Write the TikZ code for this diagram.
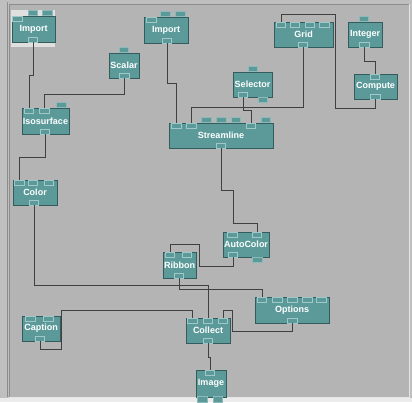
\documentclass[tikz,border=0pt]{standalone}
\usepackage{fontspec}
\setmainfont{Liberation Sans}
\usetikzlibrary{positioning}
\usetikzlibrary{calc}
\definecolor{dxteal}{RGB}{92,154,154}
\definecolor{dxlight}{RGB}{160,200,200}
\definecolor{dxdark}{RGB}{52,92,92}
\definecolor{dxbg}{RGB}{180,180,180}
\definecolor{dxwire}{RGB}{64,64,64}

\begin{document}
\begin{tikzpicture}[x=1pt,y=-1pt,
    module/.style={fill=dxteal, draw=dxdark, line width=0.6pt, inner sep=0pt,
        text=white, font=\fontsize{9}{10}\selectfont\bfseries, minimum height=25pt,
        path picture={\draw[dxlight, line width=1.4pt]
            (path picture bounding box.south west) -- (path picture bounding box.north west)
            -- (path picture bounding box.north east);}},
    tab/.style={fill=dxteal, draw=dxlight!70!dxteal, line width=0.6pt, inner sep=0pt,
        minimum width=9.5pt, minimum height=5.5pt},
    port/.style={tab, fill=dxteal, draw=dxlight, line width=0.6pt,
        minimum height=5pt},
    wire/.style={draw=dxwire, line width=0.8pt},
]
% frame
\fill[black!25] (0,0) rectangle (412,402);
\fill[dxbg] (9,4) rectangle (409,397);
\draw[black!45, line width=1pt] (9,397) -- (9,4) -- (409,4);
\draw[black!45, line width=0.6pt] (7,397) -- (7,2);
\draw[white!90!black, line width=1pt] (9,397.5) -- (409,397.5) -- (409,4);
\fill[white!92!black] (0,398) rectangle (412,402);
\fill[black!12] (11,10) rectangle (55,47);

% modules
\node[module, minimum width=43pt, minimum height=26pt] (imp1) at (33.5,29) {Import};
\node[module, minimum width=44pt, minimum height=26pt] (imp2) at (166,30) {Import};
\node[module, minimum width=30pt] (scalar) at (124,65.5) {Scalar};
\node[module, minimum width=47pt, minimum height=26pt] (iso) at (45.5,121) {Isosurface};
\node[module, minimum width=44pt] (color) at (35,192.5) {Color};
\node[module, minimum width=59pt] (grid) at (303.5,34.5) {Grid};
\node[module, minimum width=34pt] (int) at (365,34.5) {Integer};
\node[module, minimum width=43pt] (comp) at (375.5,86.5) {Compute};
\node[module, minimum width=39pt] (sel) at (252.5,84.5) {Selector};
\node[module, minimum width=104pt] (stream) at (221,135.5) {Streamline};
\node[module, minimum width=46pt] (auto) at (246,244.5) {AutoColor};
\node[module, minimum width=33pt, minimum height=26pt] (rib) at (179.5,265) {Ribbon};
\node[module, minimum width=74pt, minimum height=26pt] (opt) at (292,310) {Options};
\node[module, minimum width=38pt] (cap) at (41,328.5) {Caption};
\node[module, minimum width=44pt] (coll) at (208,330.5) {Collect};
\node[module, minimum width=30pt, minimum height=27pt] (img) at (211,383.5) {Image};

% input and output tabs
\node[port] (imp1-in1) at (17.5,18.5) {};
\node[tab] (imp1-in2) at (33,13) {};
\node[tab] (imp1-in3) at (47.5,13) {};
\node[port] (imp1-out) at (33,39.5) {};
\node[port] (imp2-in1) at (151.5,19.5) {};
\node[tab] (imp2-in2) at (165.5,14) {};
\node[tab] (imp2-in3) at (180.5,14) {};
\node[port] (imp2-out) at (167,40.5) {};
\node[tab] (scalar-in) at (124,50) {};
\node[port] (scalar-out) at (124.5,75.5) {};
\node[port] (iso-in1) at (29,110.5) {};
\node[port] (iso-in2) at (44.5,110.5) {};
\node[tab] (iso-in3) at (61.5,105) {};
\node[port] (iso-out) at (45,131.5) {};
\node[port] (color-in1) at (19.5,182.5) {};
\node[port] (color-in2) at (33,182.5) {};
\node[port] (color-in3) at (49,182.5) {};
\node[port] (color-out) at (34,202.5) {};
\node[port] (grid-in1) at (281,24.5) {};
\node[port] (grid-in2) at (295,24.5) {};
\node[port] (grid-in3) at (310,24.5) {};
\node[port] (grid-in4) at (324.5,24.5) {};
\node[port] (grid-out) at (303,44.5) {};
\node[tab] (int-in) at (364,19) {};
\node[port] (int-out) at (364.5,44.5) {};
\node[port] (comp-in) at (375,76.5) {};
\node[port] (comp-out) at (375.5,96.5) {};
\node[tab] (sel-in) at (253,69) {};
\node[port] (sel-out) at (243,94.5) {};
\node[tab] (sel-out2) at (263,100) {};
\node[port] (stream-in1) at (176.5,125.5) {};
\node[port] (stream-in2) at (191.5,125.5) {};
\node[tab] (stream-in3) at (206.5,120) {};
\node[tab] (stream-in4) at (221.5,120) {};
\node[tab] (stream-in5) at (236,120) {};
\node[port] (stream-in6) at (251,125.5) {};
\node[tab] (stream-in7) at (266,120) {};
\node[port] (stream-out) at (221,145.5) {};
\node[port] (auto-in1) at (232.5,234.5) {};
\node[port] (auto-in2) at (257,234.5) {};
\node[port] (auto-out) at (233,254.5) {};
\node[tab] (auto-out2) at (257.5,260) {};
\node[port] (rib-in1) at (170,254.5) {};
\node[port] (rib-in2) at (187,254.5) {};
\node[port] (rib-out) at (179,275.5) {};
\node[port] (opt-in1) at (262,299.5) {};
\node[port] (opt-in2) at (277.5,299.5) {};
\node[port] (opt-in3) at (292.5,299.5) {};
\node[port] (opt-in4) at (307.5,299.5) {};
\node[port] (opt-in5) at (321.5,299.5) {};
\node[port] (opt-out) at (292.5,320.5) {};
\node[port] (cap-in1) at (30.5,318.5) {};
\node[port] (cap-in2) at (48.5,318.5) {};
\node[port] (cap-out) at (40,338.5) {};
\node[port] (coll-in1) at (192.5,320.5) {};
\node[port] (coll-in2) at (208,320.5) {};
\node[port] (coll-in3) at (223,320.5) {};
\node[port] (coll-out) at (208,340.5) {};
\node[port] (img-in) at (210,372.5) {};
\node[tab] (img-out1) at (202.5,399.5) {};
\node[tab] (img-out2) at (218,399.5) {};

% wires
\draw[wire] (imp1-out.south) -- ++(0,33) -| (iso-in1.north);
\draw[wire] (scalar-out.south) -- ++(0,16) -| (iso-in2.north);
\draw[wire] (iso-out.south) -- ++(0,23) -| (color-in1.north);
\draw[wire] (imp2-out.south) -- ++(0,40) -| (stream-in1.north);
\draw[wire] (grid-out.south) -- ++(0,60) -| (stream-in2.north);
\draw[wire] (sel-out.south) -- ++(0,13) -| (stream-in6.north);
\draw[wire] (int-out.south) -- ++(0,14) -| (comp-in.north);
\draw[wire] (comp-out.south) -- ++(0,9) -| ++(-40,-94) -| (grid-in1.north);
\draw[wire] (stream-out.south) -- ++(0,42) -| ++(12,33) -| (auto-in2.north);
\draw[wire] (auto-out.south) -- ++(0,9) -| ++(-34,-22) -| (rib-in1.north);
\draw[wire] (color-out.south) -- ++(0,80) -| (coll-in2.north);
\draw[wire] (rib-out.south) -- ++(0,11) -| (opt-in1.north);
\draw[wire] (cap-out.south) -- ++(0,8) -| ++(21,-39) -| (coll-in1.north);
\draw[wire] (opt-out.south) -- ++(0,8) -| ++(-60,-21) -| (coll-in3.north);
\draw[wire] (coll-out.south) -- ++(0,14) -| (img-in.north);

\end{tikzpicture}
\end{document}
